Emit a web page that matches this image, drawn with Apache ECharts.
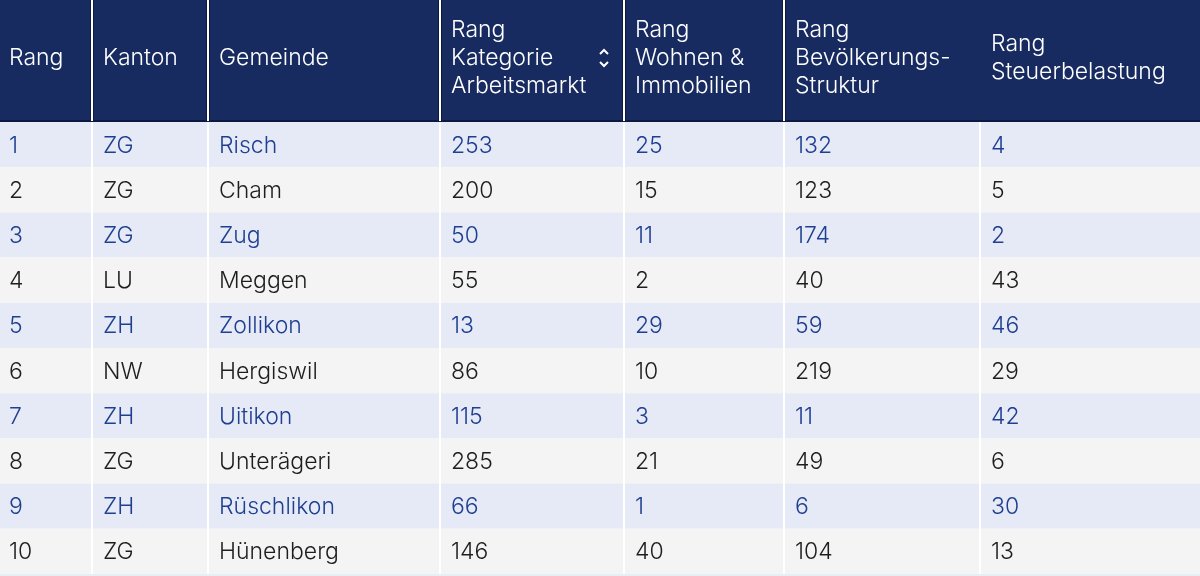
<!DOCTYPE html>
<html>
<head>
	<meta charset="utf-8">
	<title>Rangliste Gemeinden</title>
	<style>
		html, body { margin: 0; padding: 0; background: #fff; }
		#chart1 { width: 1200px; height: 576px; }
	</style>
</head>
<body>
	<div id="chart1"></div>

	<script src="https://cdn.jsdelivr.net/npm/echarts@6/dist/echarts.min.js"></script>
	<script type="text/javascript">

    // table data
    var headers = ['Rang', 'Kanton', 'Gemeinde', 'Rang\nKategorie\nArbeitsmarkt', 'Rang\nWohnen &\nImmobilien', 'Rang\nBevölkerungs-\nStruktur', 'Rang\nSteuerbelastung'];
    var rang = ['1', '2', '3', '4', '5', '6', '7', '8', '9', '10'];
    var kanton = ['ZG', 'ZG', 'ZG', 'LU', 'ZH', 'NW', 'ZH', 'ZG', 'ZH', 'ZG'];
    var gemeinde = ['Risch', 'Cham', 'Zug', 'Meggen', 'Zollikon', 'Hergiswil', 'Uitikon', 'Unterägeri', 'Rüschlikon', 'Hünenberg'];
    var arbeitsmarkt = [253, 200, 50, 55, 13, 86, 115, 285, 66, 146];
    var wohnen = [25, 15, 11, 2, 29, 10, 3, 21, 1, 40];
    var bevoelkerung = [132, 123, 174, 40, 59, 219, 11, 49, 6, 104];
    var steuer = [4, 5, 2, 43, 46, 29, 42, 6, 30, 13];

    // layout: column edges on the x scale
    var colEdges = [0, 92, 208, 440, 624, 784, 980, 1200];
    var FONT = '300 23px Inter, "Noto Sans", sans-serif';

    var columns = [rang, kanton, gemeinde, arbeitsmarkt, wohnen, bevoelkerung, steuer];
    var bodyData = [], bodyText = [];
    for (var r = 0; r < rang.length; r++) {
        for (var c = 0; c < columns.length; c++) {
            bodyData.push([c, r]);
            bodyText.push(String(columns[c][r]));
        }
    }
    var headData = headers.map(function (h, i) { return [i, 0]; });

    function padLeft(c) { return c === 0 ? 9 : 11; }

    function renderBody(params, api) {
        var c = api.value(0), r = api.value(1);
        var p0 = api.coord([colEdges[c], r]);
        var p1 = api.coord([colEdges[c + 1], r]);
        var h = api.size([0, 1])[1];
        var odd = r % 2 === 0;
        var x0 = p0[0] + (c > 0 ? 1 : 0);
        var x1 = p1[0] - (c < columns.length - 1 ? 1 : 0);
        return {
            type: 'group',
            children: [
                {
                    type: 'rect',
                    shape: { x: x0, y: p0[1] - h / 2, width: x1 - x0, height: h },
                    style: { fill: odd ? '#e5eaf6' : '#f4f4f4' }
                },
                {
                    type: 'text',
                    style: {
                        text: bodyText[params.dataIndex],
                        x: p0[0] + padLeft(c),
                        y: p0[1] + 1,
                        verticalAlign: 'middle',
                        align: 'left',
                        font: FONT,
                        fill: odd ? '#1f3f91' : '#1e1e1e'
                    }
                }
            ]
        };
    }

    function renderHead(params, api) {
        var c = api.value(0);
        var p0 = api.coord([colEdges[c], 0]);
        var p1 = api.coord([colEdges[c + 1], 0]);
        var h = api.size([0, 1])[1];
        var top = p0[1] - h / 2;
        var children = [
            {
                type: 'rect',
                shape: { x: p0[0], y: top, width: p1[0] - p0[0], height: h },
                style: { fill: '#172b60' }
            },
            {
                type: 'rect',
                shape: { x: p0[0], y: top + h - 2, width: p1[0] - p0[0], height: 2 },
                style: { fill: '#0c1a42' }
            },
            {
                type: 'text',
                style: {
                    text: headers[params.dataIndex],
                    x: p0[0] + padLeft(c),
                    y: p0[1] - 3,
                    verticalAlign: 'middle',
                    align: 'left',
                    font: FONT,
                    lineHeight: 28,
                    fill: '#ffffff'
                }
            }
        ];
        // divider on the left edge (none before the last column)
        if (c > 0 && c < 6) {
            children.push({
                type: 'rect',
                shape: { x: p0[0] - 2, y: top, width: 4, height: h },
                style: { fill: '#0c1a42' }
            });
            children.push({
                type: 'rect',
                shape: { x: p0[0] - 1, y: top, width: 2, height: h - 1 },
                style: { fill: '#ffffff' }
            });
        }
        if (c === 3) {
            // sort icon
            var ix = p1[0] - 20, iy = p0[1] - 3;
            children.push({
                type: 'polyline',
                shape: { points: [[ix - 4, iy - 4], [ix, iy - 8], [ix + 4, iy - 4]] },
                style: { stroke: '#ffffff', lineWidth: 2, fill: null }
            });
            children.push({
                type: 'polyline',
                shape: { points: [[ix - 4, iy + 4], [ix, iy + 8], [ix + 4, iy + 4]] },
                style: { stroke: '#ffffff', lineWidth: 2, fill: null }
            });
        }
        return { type: 'group', children: children };
    }

    var dom = document.getElementById('chart1');
    var myChart = echarts.init(dom);
    var option = {
        backgroundColor: '#ffffff',
        animation: false,
        grid: [
            { left: 0, right: 0, top: 0, height: 122 },
            { left: 0, right: 0, top: 122, height: 452 }
        ],
        xAxis: [
            { type: 'value', gridIndex: 0, min: 0, max: 1200, show: false },
            { type: 'value', gridIndex: 1, min: 0, max: 1200, show: false }
        ],
        yAxis: [
            { type: 'category', gridIndex: 0, data: ['head'], show: false },
            { type: 'category', gridIndex: 1, data: rang, inverse: true, show: false }
        ],
        series: [
            {
                type: 'custom',
                xAxisIndex: 0,
                yAxisIndex: 0,
                clip: false,
                renderItem: renderHead,
                data: headData,
                silent: true
            },
            {
                type: 'custom',
                xAxisIndex: 1,
                yAxisIndex: 1,
                clip: false,
                renderItem: renderBody,
                data: bodyData,
                silent: true
            }
        ],
        graphic: [
            {
                type: 'rect',
                shape: { x: 0, y: 574, width: 1200, height: 2 },
                style: { fill: '#e9edf6' },
                silent: true
            }
        ]
    };
    myChart.setOption(option, true);

	</script>
</body>
</html>
